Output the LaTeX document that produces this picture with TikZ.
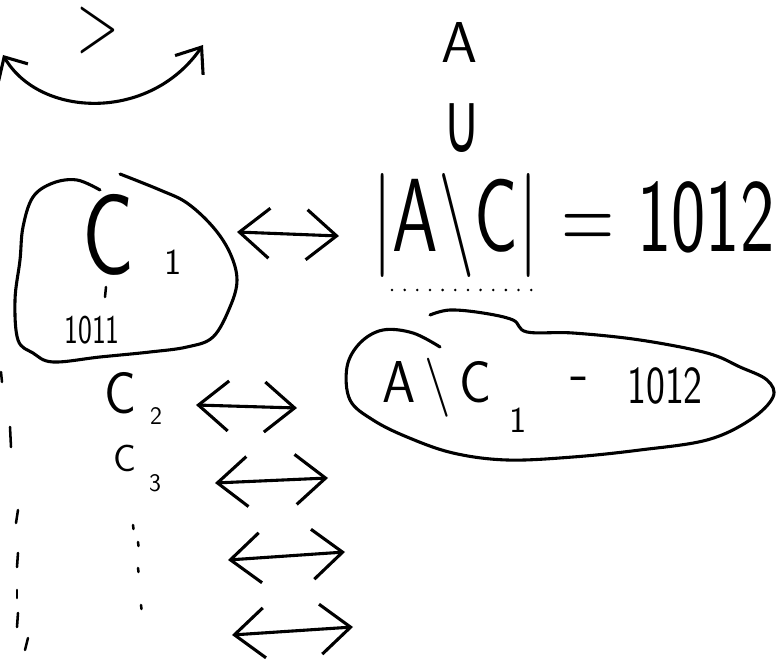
\documentclass[tikz,border=0pt]{standalone}
\usepackage{fontspec}
\newfontfamily\symfam{DejaVu Sans}
\usepackage{graphicx}
\usepackage{tikz}
\usetikzlibrary{arrows.meta, positioning, calc}
\newcommand{\handfs}[1]{\fontsize{#1}{#1}\selectfont}
\newcommand{\squeeze}[2]{\scalebox{#1}[1]{#2}}
\tikzset{
  ink/.style={line width=2.2pt, line cap=round, line join=round, color=black},
  hand/.style={inner sep=0pt, font=\sffamily},
  dbl/.style={ink, {Straight Barb[length=0.75cm,width=1.25cm]}-{Straight Barb[length=0.75cm,width=1.25cm]}},
  tick/.style={ink, line width=1.8pt}
}
\begin{document}
\begin{tikzpicture}[x=0.025cm, y=-0.025cm]
  \useasboundingbox (0,0) rectangle (779,663);
  % top left: sign and swap arrow
  \node[hand, font=\sffamily\handfs{40}] (gt) at (98,30) {\scalebox{1.0}[1.5]{>}};
  \coordinate (swapl) at (3,55);
  \coordinate (swapr) at (203,45);
  \draw[ink, {Straight Barb[length=0.45cm,width=0.85cm]}-{Straight Barb[length=0.55cm,width=0.85cm]}]
    (swapl) .. controls (40,118) and (150,122) .. (swapr);
  % A union ...
  \node[hand, font=\sffamily\handfs{41}] (setA) at (460,42) {A};
  \node[hand, font=\symfam\handfs{60}] (cupsym) at (462,128) {\squeeze{0.6}{∪}};
  % first blob: C_1
  \draw[ink] plot[smooth, tension=0.6] coordinates {(100,190) (77,180) (53,183) (33,197) (23,227)
    (20,260) (15,300) (18,340) (33,353) (53,362) (100,357) (150,352) (187,347) (213,337)
    (230,307) (237,280) (230,253) (213,227) (187,203) (160,190) (120,174)};
  \node[hand, font=\sffamily\handfs{82}] (cone) at (108,235) {\squeeze{0.75}{C}};
  \node[hand, font=\sffamily\handfs{26}] (cone sub) at (173,262) {1};
  \draw[tick] (106,287) -- (105,297);
  \node[hand, font=\sffamily\handfs{29}] (ones) at (92,330) {\squeeze{0.72}{1011}};
  % cardinality
  \node[hand, font=\sffamily\handfs{74}, anchor=west] (card) at (372,225)
    {\squeeze{0.7}{|A\textbackslash C| = 1012}};
  \coordinate (conel) at (237,232);
  \draw[dbl] (conel) -- ($(card.west)+(-33,11)$);
  \draw[ink, line width=2pt, dash pattern=on 0pt off 9pt] (392,290) -- (540,290);
  % second blob
  \draw[ink] plot[smooth, tension=0.6] coordinates {(440,347) (413,333) (383,330) (360,343) (347,367)
    (350,400) (373,420) (407,437) (453,453) (507,460) (573,457) (640,450) (707,440) (750,420)
    (773,397) (767,380) (740,367) (707,353) (640,340) (573,333) (527,332) (513,320) (483,313)
    (450,310) (430,315)};
  \node[hand, font=\sffamily\handfs{42}] (diff) at (437,388) {\squeeze{0.9}{A\,\textbackslash\,C}};
  \node[hand, font=\sffamily\handfs{26}] (diff sub) at (518,420) {1};
  \node[hand, font=\sffamily\handfs{42}] (minus) at (580,384) {-};
  \node[hand, font=\sffamily\handfs{38}] (count) at (665,386) {\squeeze{0.75}{1012}};
  % C_2, C_3, ...
  \node[hand, font=\sffamily\handfs{42}] (ctwo) at (120,393) {\squeeze{0.9}{C}};
  \node[hand, font=\sffamily\handfs{18}] (ctwo sub) at (156,416) {2};
  \node[hand, font=\sffamily\handfs{27}] (cthree) at (125,458) {C};
  \node[hand, font=\sffamily\handfs{18}] (cthree sub) at (155,483) {3};
  \coordinate (twol) at (196,405);
  \coordinate (twor) at (297,408);
  \coordinate (threel) at (215,483);
  \coordinate (threer) at (328,478);
  \coordinate (fourl) at (228,560);
  \coordinate (fourr) at (345,552);
  \coordinate (fivel) at (232,635);
  \coordinate (fiver) at (353,627);
  \draw[dbl] (twol) -- (twor);
  \draw[dbl] (threel) -- (threer);
  \draw[dbl] (fourl) -- (fourr);
  \draw[dbl] (fivel) -- (fiver);
  % vertical dots
  \foreach \x/\y in {133/525, 138/542, 138/568, 141/605}
    \draw[tick] (\x,\y) -- (\x+0.5,\y+4);
  % dashes on the left edge
  \foreach \xa/\ya/\xb/\yb in {1/372/2/382, 10/427/11/447, 18/510/16/523, 18/553/17/567,
      17/590/17/598, 18/613/17/627, 28/638/25/650}
    \draw[tick] (\xa,\ya) -- (\xb,\yb);
\end{tikzpicture}
\end{document}
